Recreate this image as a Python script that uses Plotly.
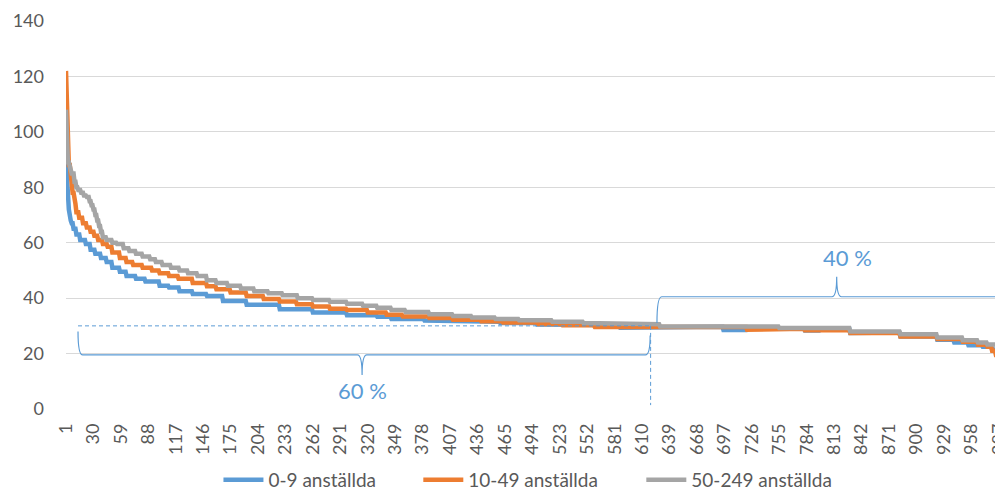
import numpy as np
import plotly.graph_objects as go

# ---------------- data ----------------
N_FIRMS = 1000

tick_labels = [1, 30, 59, 88, 117, 146, 175, 204, 233, 262, 291, 320, 349, 378,
               407, 436, 465, 494, 523, 552, 581, 610, 639, 668, 697, 726, 755,
               784, 813, 842, 871, 900, 929, 958, 987]

series_names = ["0-9 anställda", "10-49 anställda", "50-249 anställda"]

# step curves: first rank of each step, and the value of that step
blue_start = [1, 2, 3, 4, 5, 7, 9, 12, 16, 22, 27, 32, 38, 44, 50, 58, 65, 75, 85,
              100, 110, 121, 135, 150, 167, 192, 227, 262, 298, 330, 345, 380, 420,
              460, 499, 530, 587, 629, 696, 721, 782, 798, 830, 850, 883, 922, 940,
              955, 970, 980, 986, 990]
blue_value = [90, 86, 78, 72, 68, 67, 65, 63, 61, 59.5, 57.5, 56, 54.5, 53, 51, 49.5,
              48, 47, 46, 44.5, 43.8, 42.5, 41.5, 40.8, 39, 37.6, 36, 34.8, 33.8, 33.3,
              32.5, 31.9, 31.5, 31, 30.5, 30.3, 29.3, 29.7, 28.5, 29, 28.3, 29, 27.4,
              27.6, 26.2, 25, 24, 23, 22.5, 21.5, 20.5, 19.5]

orange_start = [1, 2, 3, 4, 6, 8, 10, 12, 15, 19, 23, 27, 31, 35, 40, 45, 50, 58, 65,
                72, 82, 92, 100, 110, 120, 135, 150, 160, 175, 192, 210, 227, 245, 262,
                280, 298, 320, 340, 357, 385, 410, 440, 463, 500, 526, 560, 587, 629,
                721, 755, 782, 830, 883, 922, 949, 965, 975, 980, 984, 987, 989, 991]
orange_value = [122, 112, 91, 88, 84, 78, 74, 71, 69, 67, 65.5, 64, 62.5, 61, 59.5,
                58.5, 56.5, 54.5, 53, 52, 51, 50, 49, 48, 47, 45.5, 44.3, 43.2, 42,
                40.8, 39.7, 38.8, 37.8, 37, 36.2, 35.7, 34.8, 34, 33.4, 32.8, 32.2,
                31.7, 31.2, 30.7, 30.2, 29.6, 29.2, 29.6, 28.6, 29.0, 28.4, 27.4, 26.2,
                25.3, 24.3, 23.2, 22.5, 21, 19.5, 18, 16.5, 15]

gray_start = [1, 2, 3, 5, 7, 10, 12, 14, 17, 20, 23, 26, 28, 30, 32, 34, 36, 38, 40,
              44, 50, 55, 62, 68, 75, 82, 90, 96, 103, 112, 121, 130, 140, 150, 160,
              172, 186, 200, 215, 230, 246, 262, 280, 298, 315, 330, 345, 360, 385,
              410, 430, 455, 480, 515, 548, 585, 629, 755, 830, 883, 922, 949, 965,
              975, 985]
gray_value = [108, 95, 89, 87, 85, 82, 80, 79, 78, 77, 76.5, 75, 73.5, 72, 70, 68, 66,
              64, 62, 61, 60, 59.5, 58, 57, 56, 55, 54, 53, 52, 51, 50, 49, 48, 46.5,
              45.5, 44.5, 43.5, 42.5, 41.8, 41, 40, 39.3, 38.7, 38, 37.3, 36.5, 35.7,
              35, 34.2, 33.6, 33, 32.5, 32, 31.5, 31, 30.6, 29.8, 29.2, 28, 27, 25.8,
              24.8, 24, 23.3, 22.5]

colors = ["#5B9BD5", "#ED7D31", "#A5A5A5"]

# annotation geometry (rank / value coordinates)
split_rank = 619          # 60 % / 40 % split
split_level = 30
low_brace = dict(x0=13.7, x1=618.5, y0l=28, y0r=26.5, ybar=19.5, ytip=12.3, xmid=314)
up_brace = dict(x0=625.7, x1=1010, y0l=31, y0r=31, ybar=40.5, ytip=47.7, xmid=815.7)
label_60 = dict(x=314, y=6.5, text="60 %")
label_40 = dict(x=827, y=54.7, text="40 %")

# legend entry positions (paper fraction)
legend_x = [0.1627, 0.376, 0.614]


def expand(starts, values, n):
    counts = np.diff(np.array(starts + [n + 1]))
    return np.repeat(np.array(values, dtype=float), counts)


def brace_path(b, dx=5.0):
    x0, x1, ybar, ytip, xm = b["x0"], b["x1"], b["ybar"], b["ytip"], b["xmid"]
    return (f"M {x0},{b['y0l']} Q {x0},{ybar} {x0+dx},{ybar} "
            f"L {xm-dx},{ybar} Q {xm},{ybar} {xm},{ytip} "
            f"Q {xm},{ybar} {xm+dx},{ybar} "
            f"L {x1-dx},{ybar} Q {x1},{ybar} {x1},{b['y0r']}")


ranks = np.arange(1, N_FIRMS + 1)
ys = [expand(blue_start, blue_value, N_FIRMS),
      expand(orange_start, orange_value, N_FIRMS),
      expand(gray_start, gray_value, N_FIRMS)]

legend_ids = ["legend", "legend2", "legend3"]

fig = go.Figure()
for name, y, c, lid in zip(series_names, ys, colors, legend_ids):
    fig.add_trace(go.Scatter(x=ranks, y=y, mode="lines", name=name, legend=lid,
                             line=dict(color=c, width=4.5)))

acol = "#5B9BD5"
shapes = [
    dict(type="line", xref="x", yref="y", x0=low_brace["x0"], x1=split_rank,
         y0=split_level, y1=split_level, line=dict(color=acol, width=1, dash="4px,3px")),
    dict(type="line", xref="x", yref="y", x0=split_rank, x1=split_rank,
         y0=split_level, y1=1.4, line=dict(color=acol, width=1, dash="4px,3px")),
    dict(type="path", xref="x", yref="y", path=brace_path(low_brace),
         line=dict(color=acol, width=1.2)),
    dict(type="path", xref="x", yref="y", path=brace_path(up_brace),
         line=dict(color=acol, width=1.2)),
]

annotations = [
    dict(x=lab["x"], y=lab["y"], xref="x", yref="y", text=lab["text"], showarrow=False,
         font=dict(family="Lato", size=22, color=acol))
    for lab in (label_60, label_40)
]

legend_style = dict(orientation="h", xanchor="left", y=-0.183, yanchor="middle",
                    font=dict(size=19, color="#595959"), itemwidth=40,
                    bgcolor="rgba(0,0,0,0)")

# page body has an 8 px margin, so the figure is 8 px smaller than the window
fig.update_layout(
    width=995, height=483,
    margin=dict(l=58, r=0, t=13, b=82, autoexpand=False),
    paper_bgcolor="white", plot_bgcolor="white",
    font=dict(family="Lato", size=18, color="#595959"),
    showlegend=True,
    legend=dict(x=legend_x[0], **legend_style),
    legend2=dict(x=legend_x[1], **legend_style),
    legend3=dict(x=legend_x[2], **legend_style),
    shapes=shapes,
    annotations=annotations,
)
fig.update_xaxes(range=[1, 991.5], tickvals=tick_labels,
                 ticktext=[str(t) for t in tick_labels], tickangle=-90,
                 showgrid=False, zeroline=False, showline=False, ticks="",
                 automargin=False, ticklabeloverflow="allow",
                 ticklabelstandoff=10, tickfont=dict(size=18, color="#595959"))
fig.update_yaxes(range=[0, 140], dtick=20, showgrid=True, gridcolor="#D9D9D9",
                 gridwidth=1.3, zeroline=False, showline=False, ticks="",
                 automargin=False,
                 ticklabelstandoff=21, tickfont=dict(size=18, color="#595959"))

fig.write_html("out.html")
